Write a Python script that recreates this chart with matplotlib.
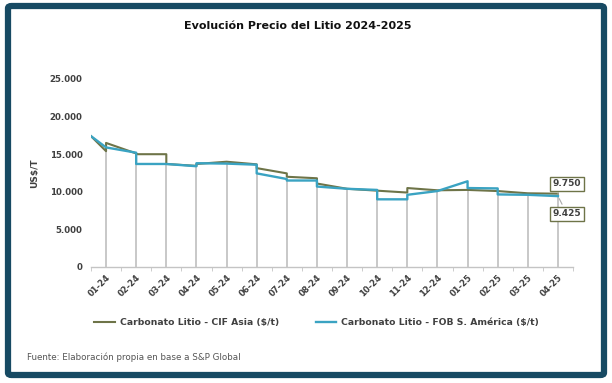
import numpy as np
import matplotlib
matplotlib.use("Agg")
import matplotlib.pyplot as plt
from matplotlib.patches import FancyBboxPatch
from matplotlib.ticker import FuncFormatter

months = ["01-24", "02-24", "03-24", "04-24", "05-24", "06-24", "07-24", "08-24",
          "09-24", "10-24", "11-24", "12-24", "01-25", "02-25", "03-25", "04-25"]

cif_pos = [-0.5, 0, 0, 1, 1, 2, 2, 3, 3, 4, 5, 5, 6, 6, 7, 7, 8, 9, 10, 10, 11, 12, 13, 14, 15]
cif_val = [17400, 15400, 16500, 15100, 15000, 15000, 13700, 13450, 13700, 14000, 13650, 13150,
           12450, 12000, 11800, 11100, 10400, 10150, 9900, 10500, 10200, 10250, 10100, 9800, 9750]

fob_pos = [-0.5, 0, 1, 1, 2, 3, 3, 4, 5, 5, 6, 6, 7, 7, 8, 9, 9, 10, 10, 11, 12, 12, 13, 13, 14, 15]
fob_val = [17400, 15900, 15200, 13700, 13700, 13400, 13800, 13750, 13600, 12450, 11700, 11500,
           11500, 10700, 10400, 10250, 9000, 9000, 9600, 10100, 11400, 10500, 10450, 9650, 9600, 9425]

cif_label = "Carbonato Litio - CIF Asia ($/t)"
fob_label = "Carbonato Litio - FOB S. América ($/t)"

W, H = 612, 383
fig = plt.figure(figsize=(W / 100, H / 100), dpi=100)
fig.patch.set_facecolor("white")

def fx(px):
    return px / W

def fy(py):
    return 1 - py / H

# frame
frame = FancyBboxPatch((fx(8), fy(375)), fx(596), (375 - 6) / H,
                       boxstyle="round,pad=0,rounding_size=0.006",
                       transform=fig.transFigure, facecolor="none",
                       edgecolor="#174a63", linewidth=4.5, zorder=-5)
fig.patches.append(frame)

ax = fig.add_axes([fx(91), fy(267), (573 - 91) / W, (267 - 79) / H])
ax.set_facecolor("none")

cif_color = "#6e7448"
fob_color = "#3aa3c2"

cp = np.array(cif_pos); cv = np.array(cif_val)
fp = np.array(fob_pos); fv = np.array(fob_val)

# drop lines
for i in range(len(months)):
    vals = np.concatenate([cv[cp == i], fv[fp == i]])
    ax.plot([i, i], [0, vals.min()], color="#c4c4c4", lw=1.3, zorder=1)

ax.plot(cp, cv, color=cif_color, lw=1.5, zorder=3, label=cif_label)
ax.plot(fp, fv, color=fob_color, lw=1.7, zorder=4, label=fob_label)

ax.set_xlim(-0.5, len(months) - 0.5)
ax.set_ylim(0, 25000)
ax.set_yticks(np.arange(0, 25001, 5000))
ax.yaxis.set_major_formatter(FuncFormatter(lambda v, p: f"{int(v):,}".replace(",", ".")))
ax.set_xticks(range(len(months)))
ax.set_xticklabels(months, rotation=45, ha="right", rotation_mode="anchor",
                   fontsize=6, fontweight="bold", color="#404040")
ax.set_xticks(np.arange(-0.5, len(months), 1), minor=True)
ax.tick_params(axis="x", which="major", length=0, pad=4)
ax.tick_params(axis="x", which="minor", length=3, color="#c4c4c4")
ax.tick_params(axis="y", length=0, pad=6, labelsize=6.2, labelcolor="#404040")
for t in ax.get_yticklabels():
    t.set_fontweight("bold")
for s in ["top", "right", "left"]:
    ax.spines[s].set_visible(False)
ax.spines["bottom"].set_color("#c4c4c4")
ax.spines["bottom"].set_linewidth(1)

ax.set_ylabel("US$/T", fontsize=6.5, fontweight="bold", color="#404040", labelpad=8)

# end labels
last = len(months) - 1
ax.annotate(f"{cif_val[-1]:,}".replace(",", "."), xy=(last, cif_val[-1]),
            xytext=(567, H - 184), textcoords="figure pixels",
            fontsize=6.5, fontweight="bold", color="#404040", ha="center", va="center",
            bbox=dict(boxstyle="square,pad=0.25", fc="white", ec="#6e7448", lw=1),
            arrowprops=dict(arrowstyle="-", color="#aaaaaa", lw=0.8), zorder=6)
ax.annotate(f"{fob_val[-1]:,}".replace(",", "."), xy=(last, fob_val[-1]),
            xytext=(567, H - 214), textcoords="figure pixels",
            fontsize=6.5, fontweight="bold", color="#404040", ha="center", va="center",
            bbox=dict(boxstyle="square,pad=0.25", fc="white", ec="#6e7448", lw=1),
            arrowprops=dict(arrowstyle="-", color="#aaaaaa", lw=0.8), zorder=6)

fig.text(fx(298), fy(26), "Evolución Precio del Litio 2024-2025", ha="center", va="center",
         fontsize=8, fontweight="bold", color="#111111")

leg = fig.legend(loc="center left", bbox_to_anchor=(fx(86), fy(323)), ncol=2, frameon=False,
                 prop=dict(size=6.7, weight="bold"), labelcolor="#404040",
                 handlelength=2.2, handletextpad=0.5, columnspacing=4.0)

fig.text(fx(27), fy(357), "Fuente: Elaboración propia en base a S&P Global", ha="left", va="center",
         fontsize=6.3, color="#555555")

fig.savefig("out.png", dpi=100, facecolor="white")
